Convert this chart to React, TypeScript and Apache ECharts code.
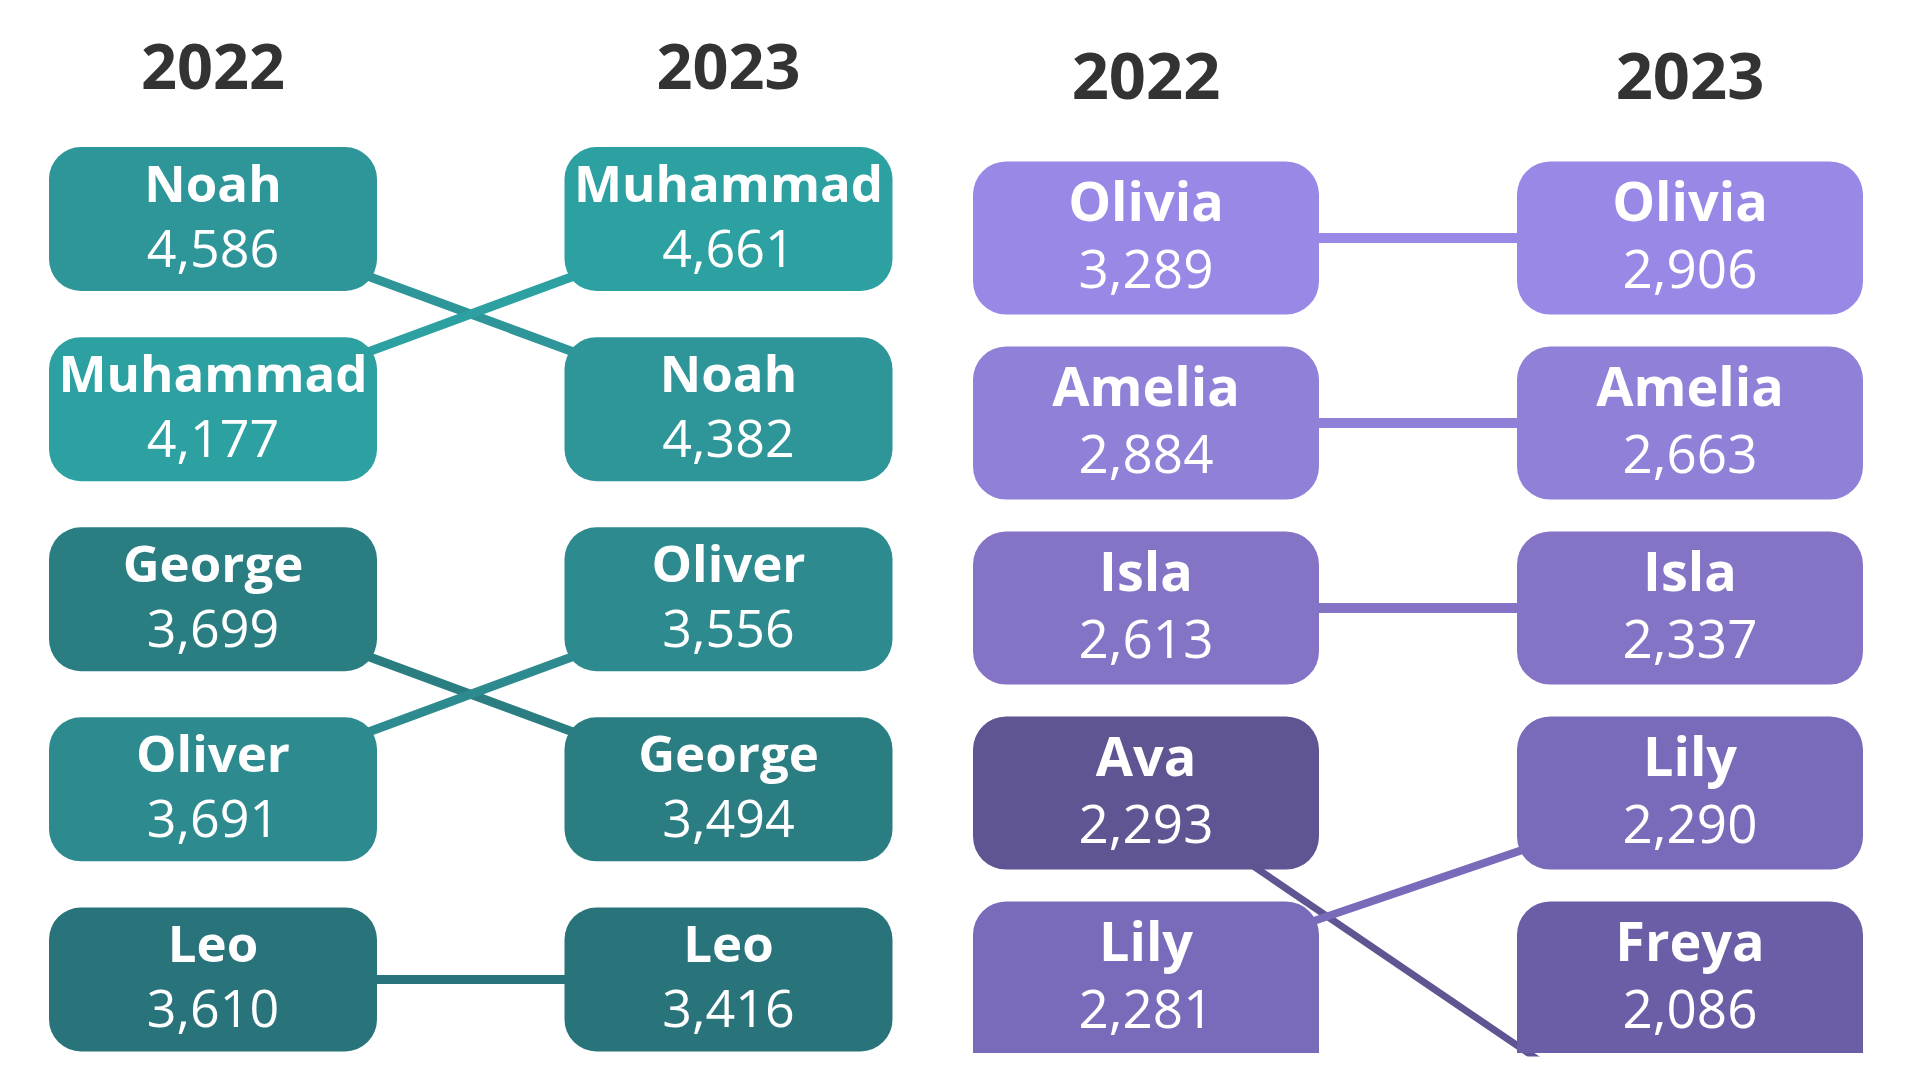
import React, { useEffect, useRef } from "react";
import * as echarts from "echarts";

// ---------- DATA ----------
const years = ["2022", "2023"];

const boysNames = ["Noah", "Muhammad", "George", "Oliver", "Leo"];
const boysRank2022 = [1, 2, 3, 4, 5];
const boysCount2022 = [4586, 4177, 3699, 3691, 3610];
const boysRank2023 = [2, 1, 4, 3, 5];
const boysCount2023 = [4382, 4661, 3494, 3556, 3416];
const boysColors = ["#2E9598", "#2DA1A1", "#2A7E82", "#2D8B8F", "#29737A"];

const girlsNames = ["Olivia", "Amelia", "Isla", "Ava", "Lily", "Freya"];
const girlsRank2022: (number | null)[] = [1, 2, 3, 4, 5, null];
const girlsCount2022: (number | null)[] = [3289, 2884, 2613, 2293, 2281, null];
const girlsRank2023: (number | null)[] = [1, 2, 3, 6, 4, 5];
const girlsCount2023: (number | null)[] = [2906, 2663, 2337, null, 2290, 2086];
const girlsColors = ["#9A88E6", "#9080D8", "#8574C6", "#5F5592", "#7A6BBA", "#6C5EA6"];
const girlsLineWidths = [10, 10, 10, 7, 8, 8];

const FONT = "'Open Sans', 'Noto Sans', sans-serif";

type Panel = {
  boxW: number; boxH: number; radius: number;
  nameSize: number; valSize: number; nameDy: number; valDy: number;
};

const leftPanel: Panel = { boxW: 328, boxH: 144, radius: 32, nameSize: 51, valSize: 52, nameDy: -37, valDy: 27 };
const rightPanel: Panel = { boxW: 346, boxH: 153, radius: 33, nameSize: 54, valSize: 53, nameDy: -38, valDy: 29 };

function makeRender(p: Panel, names: string[], colors: string[]) {
  return (params: any, api: any) => {
    const nameIdx = api.value(2);
    const count = api.value(3);
    const c = api.coord([api.value(0), api.value(1)]);
    const cs = params.coordSys;
    const bottomLimit = cs.y + cs.height;
    const top = c[1] - p.boxH / 2;
    let h = p.boxH;
    let r: any = p.radius;
    if (top + p.boxH > bottomLimit) {
      h = bottomLimit - top;
      r = [p.radius, p.radius, 0, 0];
    }
    if (h <= 0) return null;
    return {
      type: "group",
      children: [
        {
          type: "rect",
          shape: { x: c[0] - p.boxW / 2, y: top, width: p.boxW, height: h, r },
          style: { fill: colors[nameIdx] },
        },
        {
          type: "text",
          x: c[0],
          y: c[1] + p.nameDy,
          style: {
            text: names[nameIdx],
            fill: "#ffffff",
            fontSize: p.nameSize,
            fontWeight: "bold",
            fontFamily: FONT,
            align: "center",
            verticalAlign: "middle",
          },
        },
        {
          type: "text",
          x: c[0],
          y: c[1] + p.valDy,
          style: {
            text: Number(count).toLocaleString("en-US"),
            fill: "#ffffff",
            fontSize: p.valSize,
            fontWeight: "normal",
            fontFamily: FONT,
            align: "center",
            verticalAlign: "middle",
          },
        },
      ],
    };
  };
}

function boxData(
  r22: (number | null)[], c22: (number | null)[],
  r23: (number | null)[], c23: (number | null)[]
) {
  const out: any[] = [];
  r22.forEach((r, i) => {
    if (r != null && c22[i] != null) out.push([0, r, i, c22[i]]);
  });
  r23.forEach((r, i) => {
    if (r != null && c23[i] != null) out.push([1, r, i, c23[i]]);
  });
  return out;
}

export default function App() {
  const ref = useRef<HTMLDivElement>(null);
  useEffect(() => {
    if (!ref.current) return;
    const chart = echarts.init(ref.current, undefined, { renderer: "svg" });

    const hiddenY = { show: false, type: "value" as const, inverse: true };
    const xCommon = (gridIndex: number, fontSize: number, margin: number) => ({
      type: "category" as const,
      gridIndex,
      data: years,
      boundaryGap: false,
      position: "top" as const,
      axisLine: { show: false },
      axisTick: { show: false },
      splitLine: { show: false },
      axisLabel: {
        show: true,
        color: "#333333",
        fontSize,
        fontWeight: "bold",
        fontFamily: FONT,
        verticalAlign: "middle",
        margin,
      },
    });

    const lineSeries: any[] = [];
    boysNames.forEach((n, i) => {
      lineSeries.push({
        type: "line",
        name: n,
        xAxisIndex: 0,
        yAxisIndex: 0,
        data: [boysRank2022[i], boysRank2023[i]],
        symbol: "none",
        lineStyle: { color: boysColors[i], width: 9 },
        z: 1,
        silent: true,
      });
    });
    girlsNames.forEach((n, i) => {
      lineSeries.push({
        type: "line",
        name: n,
        xAxisIndex: 1,
        yAxisIndex: 1,
        data: [girlsRank2022[i], girlsRank2023[i]],
        symbol: "none",
        connectNulls: false,
        lineStyle: { color: girlsColors[i], width: girlsLineWidths[i] },
        z: 1,
        silent: true,
      });
    });

    chart.setOption({
      animation: false,
      backgroundColor: "#ffffff",
      grid: [
        { left: 213, width: 515.5, top: 124, height: 950.5 },
        { left: 1146, width: 544, top: 145.5, height: 907.5 },
      ],
      xAxis: [xCommon(0, 63, 60), xCommon(1, 65, 72)],
      yAxis: [
        { ...hiddenY, gridIndex: 0, min: 0.5, max: 5.5 },
        { ...hiddenY, gridIndex: 1, min: 0.5, max: 5.405 },
      ],
      series: [
        ...lineSeries,
        {
          type: "custom",
          xAxisIndex: 0,
          yAxisIndex: 0,
          z: 2,
          clip: false,
          renderItem: makeRender(leftPanel, boysNames, boysColors),
          data: boxData(boysRank2022, boysCount2022, boysRank2023, boysCount2023),
        },
        {
          type: "custom",
          xAxisIndex: 1,
          yAxisIndex: 1,
          z: 2,
          clip: false,
          renderItem: makeRender(rightPanel, girlsNames, girlsColors),
          data: boxData(girlsRank2022, girlsCount2022, girlsRank2023, girlsCount2023),
        },
      ],
    });
    return () => chart.dispose();
  }, []);

  return (
    <div
      ref={ref}
      style={{ position: "fixed", left: 0, top: 0, width: 1920, height: 1080, background: "#fff" }}
    />
  );
}
